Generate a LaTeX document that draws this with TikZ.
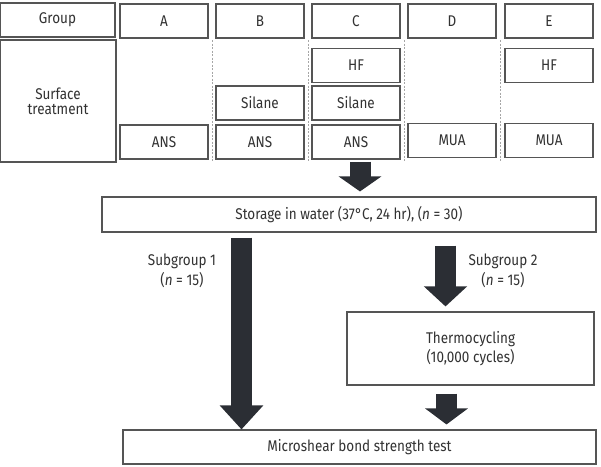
\documentclass[tikz,border=0pt]{standalone}
\usepackage{fontspec}
\setmainfont{Fira Sans}[FakeStretch=0.87]
\usepackage{tikz}
\usetikzlibrary{arrows.meta,calc}
\definecolor{boxline}{RGB}{85,85,85}
\definecolor{arrowc}{RGB}{43,46,52}
\definecolor{txt}{RGB}{50,50,50}

\begin{document}
\begin{tikzpicture}[x=1pt, y=-1pt,
    every node/.style={font=\fontsize{15.5}{19.5}\selectfont, text=txt},
    box/.style={draw=boxline, line width=1.1pt, fill=white, inner sep=0pt, minimum height=34pt},
    cell/.style={box, minimum width=88pt},
    sep/.style={draw=gray!70, line width=0.6pt, dashed, dash pattern=on 2pt off 1.5pt},
    bigarrow/.style={draw=arrowc, line width=21pt, -{Triangle[width=42pt, length=#1]}}]
        \useasboundingbox (0,0) rectangle (601,466);

        % Draw table
        \node[box, minimum width=115pt] (group) at (57.5, 20) {Group};
        \node[box, minimum width=116pt, minimum height=122pt, align=center] (surf) at (58, 101) {Surface\\[-4.5pt]treatment};

        \node[cell] (hA) at (164, 21) {A};
        \node[cell] (hB) at (260, 21) {B};
        \node[cell] (hC) at (356, 21) {C};
        \node[cell] (hD) at (452, 21) {D};
        \node[cell] (hE) at (549, 21) {E};

        \node[cell] (hfC) at (356, 65.5) {HF};
        \node[cell] (hfE) at (549, 65.5) {HF};
        \node[cell] (silB) at (260, 103) {Silane};
        \node[cell] (silC) at (356, 103) {Silane};
        \node[cell] (ansA) at (164, 142) {ANS};
        \node[cell] (ansB) at (260, 142) {ANS};
        \node[cell] (ansC) at (356, 142) {ANS};
        \node[cell] (muaD) at (452, 140.5) {MUA};
        \node[cell] (muaE) at (549, 140.5) {MUA};

        % Dashed separators
        \foreach \x in {212, 308, 404.5, 500.5}
          \draw[sep] (\x, 40) -- (\x, 162);

        % Draw flow boxes
        \node[box, minimum width=494pt, minimum height=35pt] (storage) at (349, 214.5)
          {Storage in water (37°C, 24 hr), (\textit{n} = 30)};
        \node[box, minimum width=247pt, minimum height=73pt, align=center] (thermo) at (470.5, 348.5)
          {Thermocycling\\(10,000 cycles)};
        \node[box, minimum width=473pt] (micro) at (359.5, 447) {Microshear bond strength test};

        \node[align=center] (sub1) at (182, 271) {Subgroup 1\\(\textit{n} = 15)};
        \node[align=center] (sub2) at (503, 271) {Subgroup 2\\(\textit{n} = 15)};

        % Draw arrows
        \draw[bigarrow=15pt, shorten >=5pt] ($(ansC.south)+(4,2)$) coordinate (t0) -- (t0 |- storage.north);
        \draw[bigarrow=24pt] ($(storage.south)+(-107.5,5)$) coordinate (l0) -- (l0 |- micro.north);
        \draw[bigarrow=20pt, shorten >=5pt] ($(storage.south)+(96.5,13)$) coordinate (r0) -- (r0 |- thermo.north);
        \draw[bigarrow=16pt, shorten >=5pt] ($(thermo.south)+(-24,8)$) coordinate (r1) -- (r1 |- micro.north);
      \end{tikzpicture}
\end{document}
